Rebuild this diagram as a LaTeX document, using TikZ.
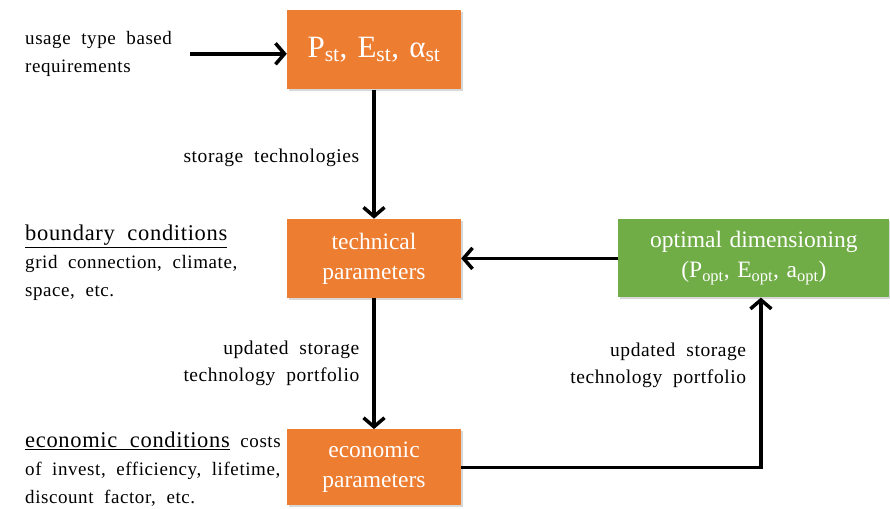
\documentclass[tikz,border=0pt]{standalone}
\usepackage{fontspec}
\setmainfont{Liberation Serif}[LetterSpace=3, WordSpace=2]
\newfontfamily\boxfont{Liberation Serif}[WordSpace=1.3]
\usetikzlibrary{arrows.meta, positioning, shadows}
\definecolor{BoxOrange}{HTML}{ED7D31}
\definecolor{BoxGreen}{HTML}{70AD47}
\newcommand{\lowidx}[1]{\textsubscript{#1}}

\begin{document}
\begin{tikzpicture}[x=1pt, y=1pt,
    stepbox/.style={fill=BoxOrange, text=white, minimum width=174pt, minimum height=79pt,
        align=center, font=\boxfont\fontsize{23.5}{30}\selectfont,
        drop shadow={shadow xshift=2pt, shadow yshift=-2pt, fill=black!30}},
    resultbox/.style={stepbox, fill=BoxGreen, minimum width=271pt, minimum height=78pt},
    note/.style={align=left, inner sep=0pt, font=\fontsize{19}{28}\selectfont},
    flowlabel/.style={align=right, inner sep=0pt, font=\fontsize{19.5}{27}\selectfont},
    flow/.style={line width=3.5pt, -{Straight Barb[length=9pt, width=21pt]}}]
\useasboundingbox (0,0) rectangle (890,508);

% boxes
\node[stepbox, font=\boxfont\fontsize{31}{36}\selectfont] (pst) at (374,458)
    {P\lowidx{st}, E\lowidx{st}, α\lowidx{st}};
\node[stepbox, below=129pt of pst] (tech) {technical\\parameters};
\node[stepbox, below=131pt of tech, minimum height=76pt] (econ) {economic\\parameters};
\node[resultbox, right=157pt of tech] (opt) {optimal dimensioning\\(P\lowidx{opt}, E\lowidx{opt}, a\lowidx{opt})};

% side notes
\node[note, anchor=north west] (usage) at (25,477) {usage type based\\requirements};
\node[note, anchor=north west] (bound) at (25,283)
    {{\fontsize{22.5}{28}\selectfont\underline{boundary conditions}}\\grid connection, climate,\\space, etc.};
\node[note, anchor=north west] (cost) at (25,76)
    {{\fontsize{22.5}{28}\selectfont\underline{economic conditions}} costs\\of invest, efficiency, lifetime,\\discount factor, etc.};

% flow
\draw[flow] ([xshift=18pt]usage.east) -- (usage.east -| pst.west);
\draw[flow] (pst) -- node[flowlabel, pos=0.53, left=13pt] {storage technologies} (tech);
\draw[flow] (tech) -- node[flowlabel, left=13pt] {updated storage\\technology portfolio} (econ);
\draw[flow] (opt) -- (tech);
\draw[flow] (econ) -| node[flowlabel, pos=0.8, left=13pt] {updated storage\\technology portfolio} ([xshift=7pt]opt.south);
\end{tikzpicture}
\end{document}
